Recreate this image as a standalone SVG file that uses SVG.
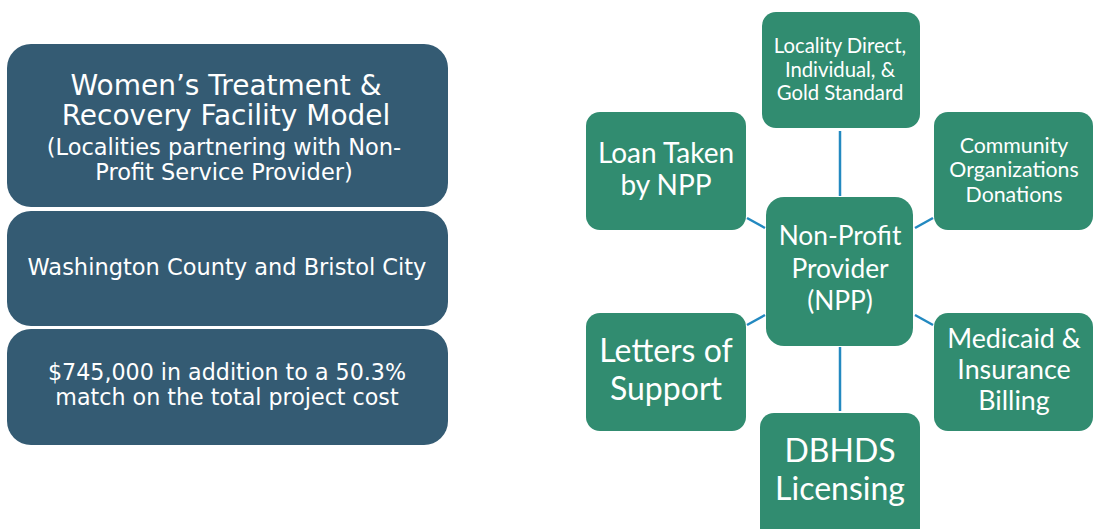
<svg xmlns="http://www.w3.org/2000/svg" width="1094" height="529" viewBox="0 0 1094 529">
<style>
.bb{fill:#345B73;}
.gb{fill:#318C70;}
.tl{font-family:"DejaVu Sans",Verdana,sans-serif;fill:#fff;text-anchor:middle;}
.tr{font-family:"Lato","Open Sans",sans-serif;fill:#fff;text-anchor:middle;}
.cn{stroke:#2389C0;stroke-width:2.5;fill:none;}
</style>
<rect width="1094" height="529" fill="#fff"/>
<g id="box-model">
<rect class="bb" x="7" y="44" width="441" height="163" rx="24"/>
<text class="tl" x="226" y="95" font-size="28">Women’s Treatment &amp;</text>
<text class="tl" x="226" y="125" font-size="28">Recovery Facility Model</text>
<text class="tl" x="224" y="155" font-size="22.5">(Localities partnering with Non-</text>
<text class="tl" x="224" y="180" font-size="22.5">Profit Service Provider)</text>
</g>
<g id="box-localities">
<rect class="bb" x="7" y="211" width="441" height="115" rx="24"/>
<text class="tl" x="227" y="275" font-size="22.5">Washington County and Bristol City</text>
</g>
<g id="box-cost">
<rect class="bb" x="7" y="329" width="441" height="116" rx="24"/>
<text class="tl" x="227" y="380" font-size="22.2">$745,000 in addition to a 50.3%</text>
<text class="tl" x="227" y="405" font-size="22.2">match on the total project cost</text>
</g>
<g id="connectors">
<line class="cn" x1="840" y1="131" x2="840" y2="196"/>
<line class="cn" x1="840" y1="347" x2="840" y2="411"/>
<line class="cn" x1="747" y1="218" x2="765" y2="228"/>
<line class="cn" x1="915" y1="228" x2="933" y2="218"/>
<line class="cn" x1="747" y1="325" x2="765" y2="315"/>
<line class="cn" x1="915" y1="315" x2="933" y2="325"/>
</g>
<g id="node-npp">
<rect class="gb" x="766" y="197" width="147" height="149" rx="18"/>
<text class="tr" x="840" y="245" font-size="26.3">Non-Profit</text>
<text class="tr" x="840" y="278" font-size="26.3">Provider</text>
<text class="tr" x="840" y="310" font-size="26.3">(NPP)</text>
</g>
<g id="node-locality">
<rect class="gb" x="762" y="12" width="158" height="116" rx="14"/>
<text class="tr" x="840" y="53" font-size="20.3">Locality Direct,</text>
<text class="tr" x="840" y="77" font-size="20.3">Individual, &amp;</text>
<text class="tr" x="840" y="100" font-size="20.3">Gold Standard</text>
</g>
<g id="node-loan">
<rect class="gb" x="586" y="112" width="160" height="118" rx="14"/>
<text class="tr" x="666" y="163" font-size="28">Loan Taken</text>
<text class="tr" x="666" y="195" font-size="28">by NPP</text>
</g>
<g id="node-community">
<rect class="gb" x="934" y="112" width="159" height="118" rx="14"/>
<text class="tr" x="1014" y="153" font-size="21.3">Community</text>
<text class="tr" x="1014" y="177" font-size="21.3">Organizations</text>
<text class="tr" x="1014" y="202" font-size="21.3">Donations</text>
</g>
<g id="node-letters">
<rect class="gb" x="586" y="313" width="160" height="118" rx="14"/>
<text class="tr" x="666" y="362" font-size="32">Letters of</text>
<text class="tr" x="666" y="400" font-size="32">Support</text>
</g>
<g id="node-medicaid">
<rect class="gb" x="934" y="313" width="159" height="118" rx="14"/>
<text class="tr" x="1014" y="348" font-size="26.8">Medicaid &amp;</text>
<text class="tr" x="1014" y="379" font-size="26.8">Insurance</text>
<text class="tr" x="1014" y="410" font-size="26.8">Billing</text>
</g>
<g id="node-dbhds">
<rect class="gb" x="760" y="413" width="160" height="130" rx="14"/>
<text class="tr" x="840" y="462" font-size="32">DBHDS</text>
<text class="tr" x="840" y="500" font-size="32">Licensing</text>
</g>
</svg>
